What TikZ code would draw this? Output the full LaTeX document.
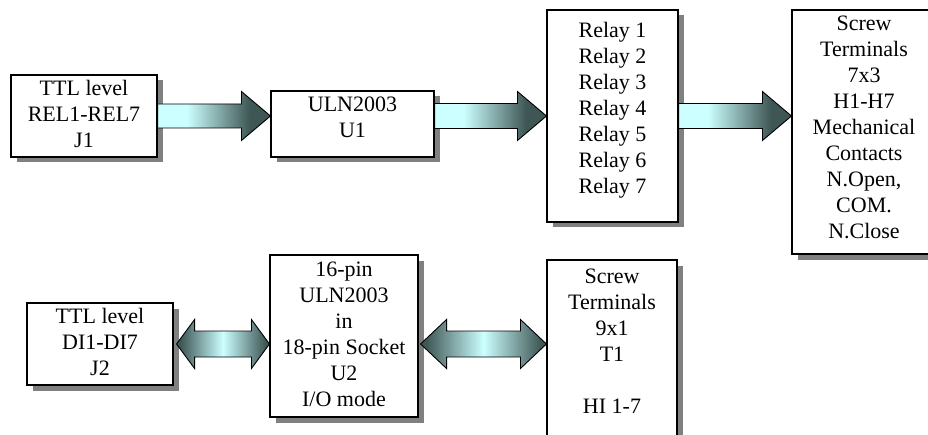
\documentclass[tikz,border=0pt]{standalone}
\usepackage{fontspec}
\setmainfont{Liberation Serif}
\usetikzlibrary{calc,shadows}
\definecolor{arrlight}{RGB}{204,255,255}
\definecolor{arrdark}{RGB}{62,86,84}
\definecolor{shadowgray}{RGB}{128,128,128}
\pgfdeclarehorizontalshading{sarr}{100bp}{color(0bp)=(arrlight); color(38bp)=(arrlight); color(66bp)=(arrdark); color(100bp)=(arrdark)}
\pgfdeclarehorizontalshading{darr}{100bp}{color(0bp)=(arrdark); color(27bp)=(arrdark); color(50bp)=(arrlight); color(73bp)=(arrdark); color(100bp)=(arrdark)}
\newcommand\boxlines[2]{\begin{tabular}{@{}c@{}}#2\\[#1]\end{tabular}}
\newcommand\sarrow[5]{% tail, tip, half shaft, half head, head length
  \path[sarrowstyle] ($(#1)+(0,#3)$) -- ($(#2)+(-#5,#3)$) -- ($(#2)+(-#5,#4)$) -- (#2) -- ($(#2)+(-#5,-#4)$) -- ($(#2)+(-#5,-#3)$) -- ($(#1)+(0,-#3)$) -- cycle;}
\newcommand\darrow[5]{% left tip, right tip, half shaft, half head, head length
  \path[darrowstyle] (#1) -- ($(#1)+(#5,#4)$) -- ($(#1)+(#5,#3)$) -- ($(#2)+(-#5,#3)$) -- ($(#2)+(-#5,#4)$) -- (#2) -- ($(#2)+(-#5,-#4)$) -- ($(#2)+(-#5,-#3)$) -- ($(#1)+(#5,-#3)$) -- ($(#1)+(#5,-#4)$) -- cycle;}
\begin{document}
\begin{tikzpicture}[x=1pt,y=1pt,
  box/.style={draw=black, line width=1.1pt, fill=white, inner sep=0pt,
    drop shadow={shadow xshift=5.5pt, shadow yshift=-5.5pt, fill=shadowgray, opacity=1},
    font=\fontsize{22}{26}\selectfont},
  sarrowstyle/.style={shading=sarr, draw=black, line width=0.9pt, line join=miter},
  darrowstyle/.style={shading=darr, draw=black, line width=0.9pt, line join=miter}]
\useasboundingbox (0,0) rectangle (928,434);
\clip (0,0) rectangle (928,434);
% top row
\node[box, minimum width=146pt, minimum height=82pt] (A) at (84,318) {\boxlines{0pt}{TTL level\\REL1-REL7\\J1}};
\node[box, minimum width=163pt, minimum height=66pt] (B) at (352.5,310) {\boxlines{10pt}{ULN2003\\U1}};
\node[box, minimum width=131pt, minimum height=212pt] (C) at (612.5,318) {\boxlines{11pt}{Relay 1\\Relay 2\\Relay 3\\Relay 4\\Relay 5\\Relay 6\\Relay 7}};
\node[box, minimum width=144pt, minimum height=244pt] (D) at (864,302) {\boxlines{6pt}{Screw\\Terminals\\7x3\\H1-H7\\Mechanical\\Contacts\\N.Open,\\COM.\\N.Close}};
% bottom row
\node[box, minimum width=146pt, minimum height=82pt] (E) at (100,90) {\boxlines{0pt}{TTL level\\DI1-DI7\\J2}};
\node[box, minimum width=148pt, minimum height=162pt] (F) at (344,98) {\boxlines{0pt}{16-pin\\ULN2003\\in\\18-pin Socket\\U2\\I/O mode}};
\node[box, minimum width=130pt, minimum height=180pt] (G) at (612,84) {\boxlines{14pt}{Screw\\Terminals\\9x1\\T1\\ \\HI 1-7}};
% connector end points
\coordinate (a1s) at (A.east);
\coordinate (a1e) at (A.east -| B.west);
\coordinate (a2s) at (B.east |- C.west);
\coordinate (a2e) at (C.west);
\coordinate (a3s) at (C.east);
\coordinate (a3e) at (C.east -| D.west);
\coordinate (d1s) at ($(E.east)+(3,0)$);
\coordinate (d1e) at (E.east -| F.west);
\coordinate (d2s) at ($(F.east |- E.east)+(2,0)$);
\coordinate (d2e) at (E.east -| G.west);
% arrows
\sarrow{a1s}{a1e}{12}{24.5}{29}
\sarrow{a2s}{a2e}{12.5}{24.5}{29}
\sarrow{a3s}{a3e}{12.5}{24.5}{29}
\darrow{d1s}{d1e}{13}{24.5}{18}
\darrow{d2s}{d2e}{13}{24.5}{26}
\end{tikzpicture}
\end{document}
